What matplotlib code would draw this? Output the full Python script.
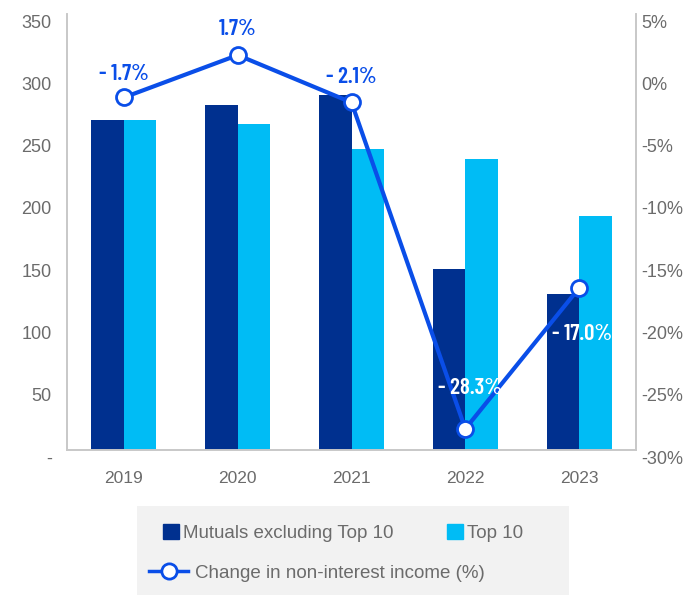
import numpy as np
import matplotlib.pyplot as plt
import matplotlib.transforms as mtransforms
from matplotlib.patches import Rectangle
from matplotlib.lines import Line2D

# Non-interest income by group, with year-on-year change
years = ["2019", "2020", "2021", "2022", "2023"]
mutuals_ex_top10 = [265, 277, 285, 145, 125]
top10 = [265, 262, 242, 234, 188]
change_pct = [-1.7, 1.7, -2.1, -28.3, -17.0]

dark_blue = "#00308f"
light_blue = "#00bcf5"
line_blue = "#0a4ee8"
grey_txt = "#6b6b6b"
spine_col = "#c8c8c8"
body_font = "Liberation Sans"
label_font = ["Barlow Condensed", "DejaVu Sans"]

fig = plt.figure(figsize=(6.99, 5.95), dpi=100)
ax = fig.add_axes([67 / 699, 1 - 450 / 595, (636 - 67) / 699, (450 - 14) / 595])

x = np.arange(len(years))
w = 0.285
ax.bar(x - w / 2, mutuals_ex_top10, w, color=dark_blue, zorder=2)
ax.bar(x + w / 2, top10, w, color=light_blue, zorder=2)

ax.set_xlim(-0.5, len(years) - 0.5)
ax.set_ylim(0, 350)
ax.set_yticks(np.arange(0, 351, 50))
ax.set_yticklabels(["-"] + [str(v) for v in range(50, 351, 50)])
ax.set_xticks(x)
ax.set_xticklabels(years)

ax2 = ax.twinx()
ax2.set_ylim(-30, 5)
ax2.set_yticks(np.arange(-30, 6, 5))
ax2.set_yticklabels([f"{v}%" for v in range(-30, 6, 5)])
ax2.plot(x, change_pct, color=line_blue, lw=3, marker="o", ms=11.5,
         mfc="white", mec=line_blue, mew=2, zorder=3)

# data labels: offsets in pixels from each marker
label_off = [(0, 23), (0, 26), (0, 25), (5, 41), (3, -46)]
label_col = [line_blue, line_blue, line_blue, "white", "white"]
for xi, v, (dx, dy), c in zip(x, change_pct, label_off, label_col):
    ax2.annotate(f"{v:.1f}%".replace("-", "-\u2009"), (xi, v),
                 xytext=(dx * 0.72, dy * 0.72),
                 textcoords="offset points", ha="center", va="center",
                 color=c, fontsize=16.5, fontweight="semibold", family=label_font,
                 zorder=4)

for a in (ax, ax2):
    a.tick_params(length=0, labelsize=13, labelcolor=grey_txt)
    a.spines["top"].set_visible(False)
    for s in ("left", "right", "bottom"):
        a.spines[s].set_color(spine_col)
        a.spines[s].set_linewidth(1.2)
    for lab in a.get_xticklabels() + a.get_yticklabels():
        lab.set_family(body_font)

ax.tick_params(axis="x", pad=15, labelsize=12.5)
ax.tick_params(axis="y", pad=11)
ax2.tick_params(axis="y", pad=4)

# tick labels sit slightly below their gridline positions
shift = mtransforms.ScaledTranslation(0, -7 / 100, fig.dpi_scale_trans)
for lab in ax.get_yticklabels() + ax2.get_yticklabels():
    lab.set_transform(lab.get_transform() + shift)

# legend panel
fig.patches.append(Rectangle((137 / 699, 0), (569 - 137) / 699, 1 - 506 / 595,
                             transform=fig.transFigure, facecolor="#f2f2f2",
                             edgecolor="none", zorder=0))

leg_kw = dict(frameon=False, loc="center left", borderpad=0, borderaxespad=0,
              prop={"family": body_font, "size": 13.5})
legend_items = [
    (Rectangle((0, 0), 1, 1, color=dark_blue), "Mutuals excluding Top 10", 163, 533),
    (Rectangle((0, 0), 1, 1, color=light_blue), "Top 10", 447, 533),
]
for h, txt, px, py in legend_items:
    lg = fig.legend([h], [txt], bbox_to_anchor=(px / 699, 1 - py / 595),
                    handlelength=0.83, handleheight=0.83, handletextpad=0.22, **leg_kw)
    lg.get_texts()[0].set_color(grey_txt)

line_handle = Line2D([0], [0], color=line_blue, lw=2.5, marker="o", ms=11,
                     mfc="white", mec=line_blue, mew=2)
lg = fig.legend([line_handle], ["Change in non-interest income (%)"],
                bbox_to_anchor=(149 / 699, 1 - 573 / 595), handlelength=2.1,
                handletextpad=0.33, **leg_kw)
lg.get_texts()[0].set_color(grey_txt)

fig.savefig("out.png", dpi=100)
